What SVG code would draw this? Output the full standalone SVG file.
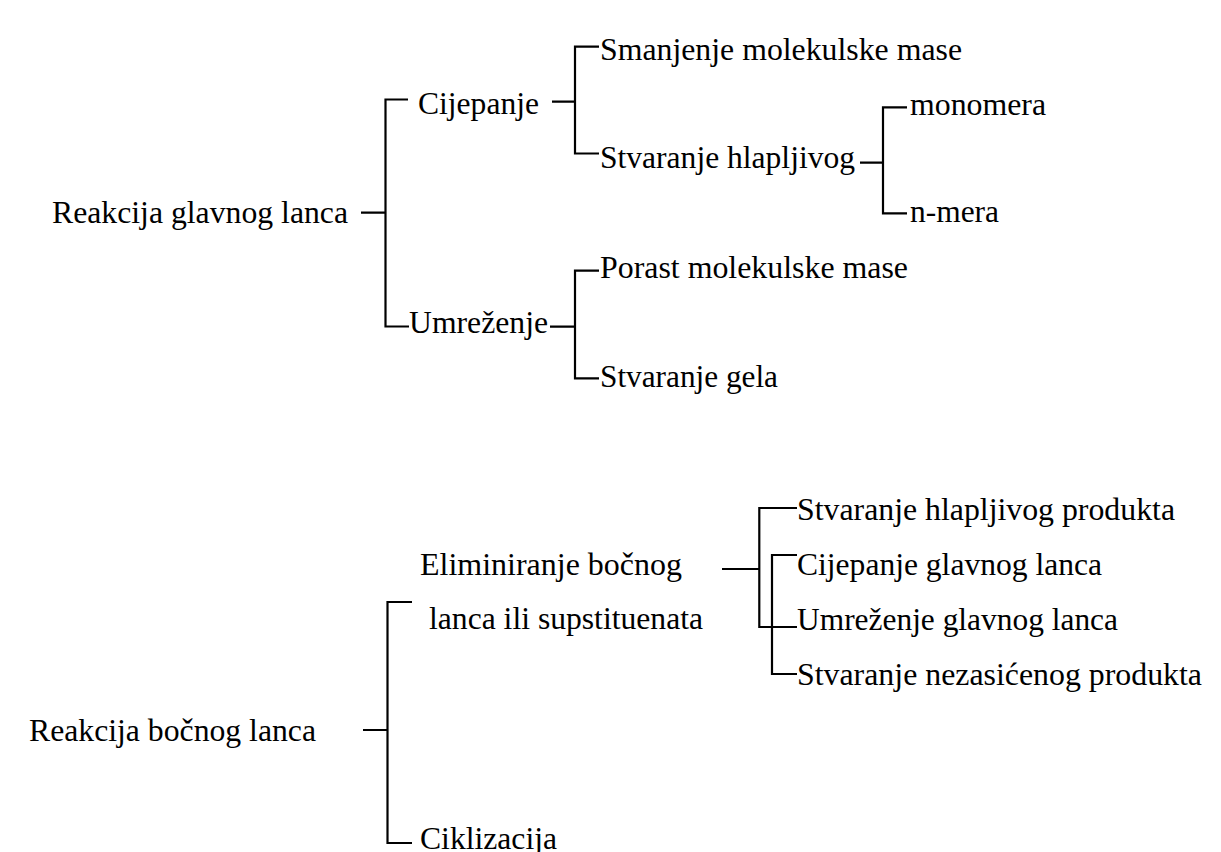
<svg xmlns="http://www.w3.org/2000/svg" width="1221" height="852" viewBox="0 0 1221 852" font-family="Liberation Serif, DejaVu Serif, serif">
<style>
text{font-size:32px;fill:#000}
.c{fill:none;stroke:#000;stroke-width:2.2}
</style>
<rect width="1221" height="852" fill="#fff"/>
<g id="connectors">
<path class="c" d="M361 212.7H385.5M408 99.5H385.5V326.5H409"/>
<path class="c" d="M552 101.7H575M599 46.7H575V153.5H599"/>
<path class="c" d="M860 162.7H883M907 107.3H883V213.3H907"/>
<path class="c" d="M550 326.7H575M599 270.7H575V378.3H599"/>
<path class="c" d="M363 730H387.5M412 602H387.5V843H412"/>
<path class="c" d="M722 569H759.3M797 508H759.3V627H797"/>
<path class="c" d="M797 555H772V674H797"/>
</g>
<g id="n-glavni"><text x="52" y="223" textLength="296" lengthAdjust="spacingAndGlyphs">Reakcija glavnog lanca</text></g>
<g id="n-cijepanje"><text x="418" y="114" textLength="121" lengthAdjust="spacingAndGlyphs">Cijepanje</text></g>
<g id="n-umrezenje"><text x="409" y="333" textLength="139" lengthAdjust="spacingAndGlyphs">Umreženje</text></g>
<g id="n-smanjenje"><text x="600" y="60" textLength="362" lengthAdjust="spacingAndGlyphs">Smanjenje molekulske mase</text></g>
<g id="n-hlapljivog"><text x="600" y="168" textLength="255" lengthAdjust="spacingAndGlyphs">Stvaranje hlapljivog</text></g>
<g id="n-monomera"><text x="910" y="115" textLength="136" lengthAdjust="spacingAndGlyphs">monomera</text></g>
<g id="n-nmera"><text x="910" y="222" textLength="89" lengthAdjust="spacingAndGlyphs">n-mera</text></g>
<g id="n-porast"><text x="600" y="278" textLength="308" lengthAdjust="spacingAndGlyphs">Porast molekulske mase</text></g>
<g id="n-gela"><text x="600" y="387" textLength="178" lengthAdjust="spacingAndGlyphs">Stvaranje gela</text></g>
<g id="n-bocni"><text x="29" y="741" textLength="287" lengthAdjust="spacingAndGlyphs">Reakcija bočnog lanca</text></g>
<g id="n-eliminiranje"><text x="420" y="575" textLength="262" lengthAdjust="spacingAndGlyphs">Eliminiranje bočnog</text><text x="429" y="629" textLength="274" lengthAdjust="spacingAndGlyphs">lanca ili supstituenata</text></g>
<g id="n-ciklizacija"><text x="420" y="849" textLength="137" lengthAdjust="spacingAndGlyphs">Ciklizacija</text></g>
<g id="n-produkt"><text x="797" y="520" textLength="378" lengthAdjust="spacingAndGlyphs">Stvaranje hlapljivog produkta</text></g>
<g id="n-cijepanje-gl"><text x="797" y="575" textLength="305" lengthAdjust="spacingAndGlyphs">Cijepanje glavnog lanca</text></g>
<g id="n-umrezenje-gl"><text x="797" y="630" textLength="321" lengthAdjust="spacingAndGlyphs">Umreženje glavnog lanca</text></g>
<g id="n-nezasicenog"><text x="797" y="685" textLength="405" lengthAdjust="spacingAndGlyphs">Stvaranje nezasićenog produkta</text></g>
</svg>
